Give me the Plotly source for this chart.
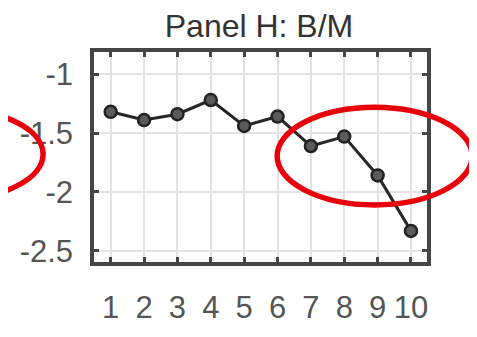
import plotly.graph_objects as go

portfolios = [1, 2, 3, 4, 5, 6, 7, 8, 9, 10]
values = [-1.32, -1.39, -1.34, -1.22, -1.44, -1.36, -1.61, -1.53, -1.86, -2.33]
y_ticks = [-1, -1.5, -2, -2.5]
y_tick_labels = ["-1", "-1.5", "-2", "-2.5"]
title_text = "Panel H: B/M"

# page is offset by the default 8px body margin
OFF = 8
W, H = 477 - OFF, 337 - OFF
L, R, T, B = 87 - OFF, 427 - OFF, 52 - OFF, 280 - OFF

def px(x):
    return (x - OFF - L) / (R - L)

def py(y):
    return (B - (y - OFF)) / (B - T)

fig = go.Figure()
fig.add_trace(go.Scatter(
    x=portfolios, y=values, mode="lines+markers",
    line=dict(color="#262626", width=3),
    marker=dict(symbol="circle", size=12, color="#5a5a5a",
                line=dict(color="#222222", width=2.5)),
    showlegend=False, cliponaxis=False,
))

axis_common = dict(
    showline=True, linecolor="#454545", linewidth=3.5, mirror="allticks",
    ticks="inside", ticklen=5, tickwidth=2.5, tickcolor="#454545",
    showgrid=True, gridcolor="#e3e3e3", gridwidth=2, zeroline=False,
    tickfont=dict(family="Liberation Sans, Arial", size=31, color="#555555"),
)

fig.update_xaxes(range=[0.5, 10.48], tickvals=portfolios,
                 ticktext=[str(p) for p in portfolios], ticklabelstandoff=15,
                 **axis_common)
fig.update_yaxes(range=[-2.594, -0.8125], tickvals=y_ticks,
                 ticktext=y_tick_labels, ticklabelstandoff=11, **axis_common)

fig.update_layout(
    width=W, height=H,
    margin=dict(l=L, r=W - R, t=T, b=H - B, pad=0),
    paper_bgcolor="white", plot_bgcolor="white",
    title=dict(text=title_text, x=(259 - OFF) / W, xanchor="center",
               y=1 - (15 - OFF) / H, yanchor="top",
               font=dict(family="Liberation Sans, Arial", size=32, color="#333333")),
    shapes=[
        dict(type="circle", xref="paper", yref="paper",
             x0=px(-150), x1=px(35), y0=py(212), y1=py(114),
             line=dict(color="#e8000b", width=5.5)),
        dict(type="circle", xref="paper", yref="paper",
             x0=px(274), x1=px(473), y0=py(218), y1=py(112),
             line=dict(color="#e8000b", width=5.5)),
    ],
)

fig.write_html("out.html")
